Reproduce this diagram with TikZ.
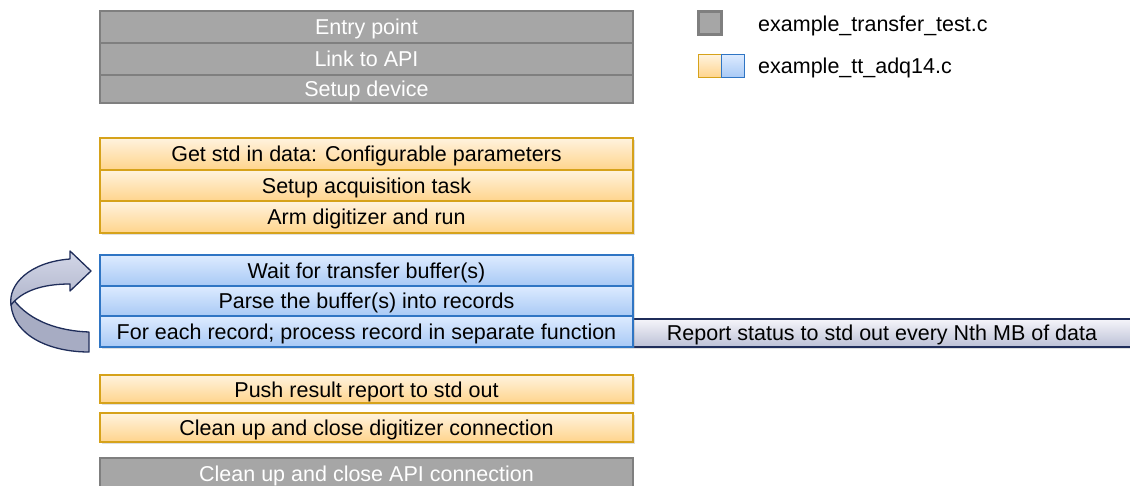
\documentclass[tikz,border=0pt]{standalone}
\usepackage{fontspec}
\setmainfont{Liberation Sans}
\usetikzlibrary{shadows}

\definecolor{greyfill}{HTML}{A6A6A6}
\definecolor{greyline}{HTML}{7F7F7F}
\definecolor{orangetop}{HTML}{FFF3DE}
\definecolor{orangebot}{HTML}{FFD48C}
\definecolor{orangeline}{HTML}{D6A21A}
\definecolor{bluetop}{HTML}{DDEBFF}
\definecolor{bluebot}{HTML}{A8C9F5}
\definecolor{blueline}{HTML}{2F75C4}
\definecolor{navyline}{HTML}{1F2D5A}
\definecolor{navytop}{HTML}{F5F5FA}
\definecolor{navybot}{HTML}{BCC0D6}
\definecolor{arrowlight}{HTML}{D3D7E8}
\definecolor{arrowdark}{HTML}{A7ACC3}

\begin{document}
\begin{tikzpicture}[x=1pt,y=-1pt,font=\fontsize{21.5}{24}\selectfont,
    step box/.style={rectangle,inner sep=0pt,minimum width=533pt,text height=16pt,text depth=0pt},
    grey step/.style={step box,fill=greyfill,draw=greyline,line width=2.6pt,text=white},
    orange step/.style={step box,top color=orangetop,bottom color=orangebot,draw=orangeline,line width=1.6pt,
        drop shadow={shadow xshift=1.5pt,shadow yshift=-2pt,opacity=.25}},
    blue step/.style={step box,top color=bluetop,bottom color=bluebot,draw=blueline,line width=1.6pt,
        drop shadow={shadow xshift=1.5pt,shadow yshift=-2pt,opacity=.25}}]
\useasboundingbox (0,0) rectangle (1130,486);

% start up (grey)
\begin{scope}[every node/.style={grey step}]
    \node[minimum height=32pt] (entry) at (366.5,27) {Entry point};
    \node[minimum height=32pt] (link) at (366.5,59) {Link to API};
    \node[minimum height=28pt] (setup) at (366.5,89) {Setup device};
\end{scope}

% configuration (orange)
\begin{scope}[every node/.style={orange step,minimum height=31.5pt}]
    \node (getdata) at (366.5,154) {Get std in data: Configurable parameters};
    \node (acqtask) at (366.5,185.5) {Setup acquisition task};
    \node (arm) at (366.5,217) {Arm digitizer and run};
\end{scope}

% loop (blue)
\node[step box,minimum width=498pt,minimum height=28pt,top color=navytop,bottom color=navybot,
      draw=navyline,line width=1.4pt,drop shadow={shadow xshift=1.5pt,shadow yshift=-2pt,opacity=.25}]
      (report) at (882,333) {Report status to std out every Nth MB of data};
\begin{scope}[every node/.style={blue step,minimum height=30.5pt}]
    \node (wait) at (366.5,270.5) {Wait for transfer buffer(s)};
    \node (parse) at (366.5,301) {Parse the buffer(s) into records};
    \node (foreach) at (366.5,331.5) {For each record; process record in separate function};
\end{scope}

% loop arrow
\begin{scope}[draw=navyline,line width=1.3pt,line join=round]
    \filldraw[fill=arrowdark] (13,299) .. controls (30,322) and (60,331) .. (89,332)
        -- (89,352) .. controls (50,352) and (14,336) .. (11,305) -- cycle;
    \filldraw[top color=arrowlight,bottom color=arrowdark!80!arrowlight] (70,259) .. controls (30,262) and (8,284) .. (11,305)
        .. controls (22,291) and (42,284) .. (70,284) -- (70,291) -- (91,271) -- (70,251) -- cycle;
\end{scope}

% wrap up
\begin{scope}[every node/.style={orange step}]
    \node[minimum height=28pt] (push) at (366.5,389) {Push result report to std out};
    \node[minimum height=29pt] (closedig) at (366.5,427.5) {Clean up and close digitizer connection};
\end{scope}
\node[grey step,minimum height=31pt] (closeapi) at (366.5,473.5) {Clean up and close API connection};

% legend
\node[rectangle,minimum size=23pt,inner sep=0pt,fill=greyfill,draw=greyline,line width=2.6pt] (keygrey) at (710,23) {};
\node[rectangle,minimum size=23pt,inner sep=0pt,top color=orangetop,bottom color=orangebot,draw=orangeline,line width=1.6pt] (keyorange) at (710,66) {};
\node[rectangle,minimum size=23pt,inner sep=0pt,top color=bluetop,bottom color=bluebot,draw=blueline,line width=1.6pt] (keyblue) at (733,66) {};
\node[anchor=west,inner sep=0pt] (keygreytext) at (758,26) {example\_transfer\_test.c};
\node[anchor=west,inner sep=0pt] (keycoltext) at (758,68) {example\_tt\_adq14.c};
\end{tikzpicture}
\end{document}
